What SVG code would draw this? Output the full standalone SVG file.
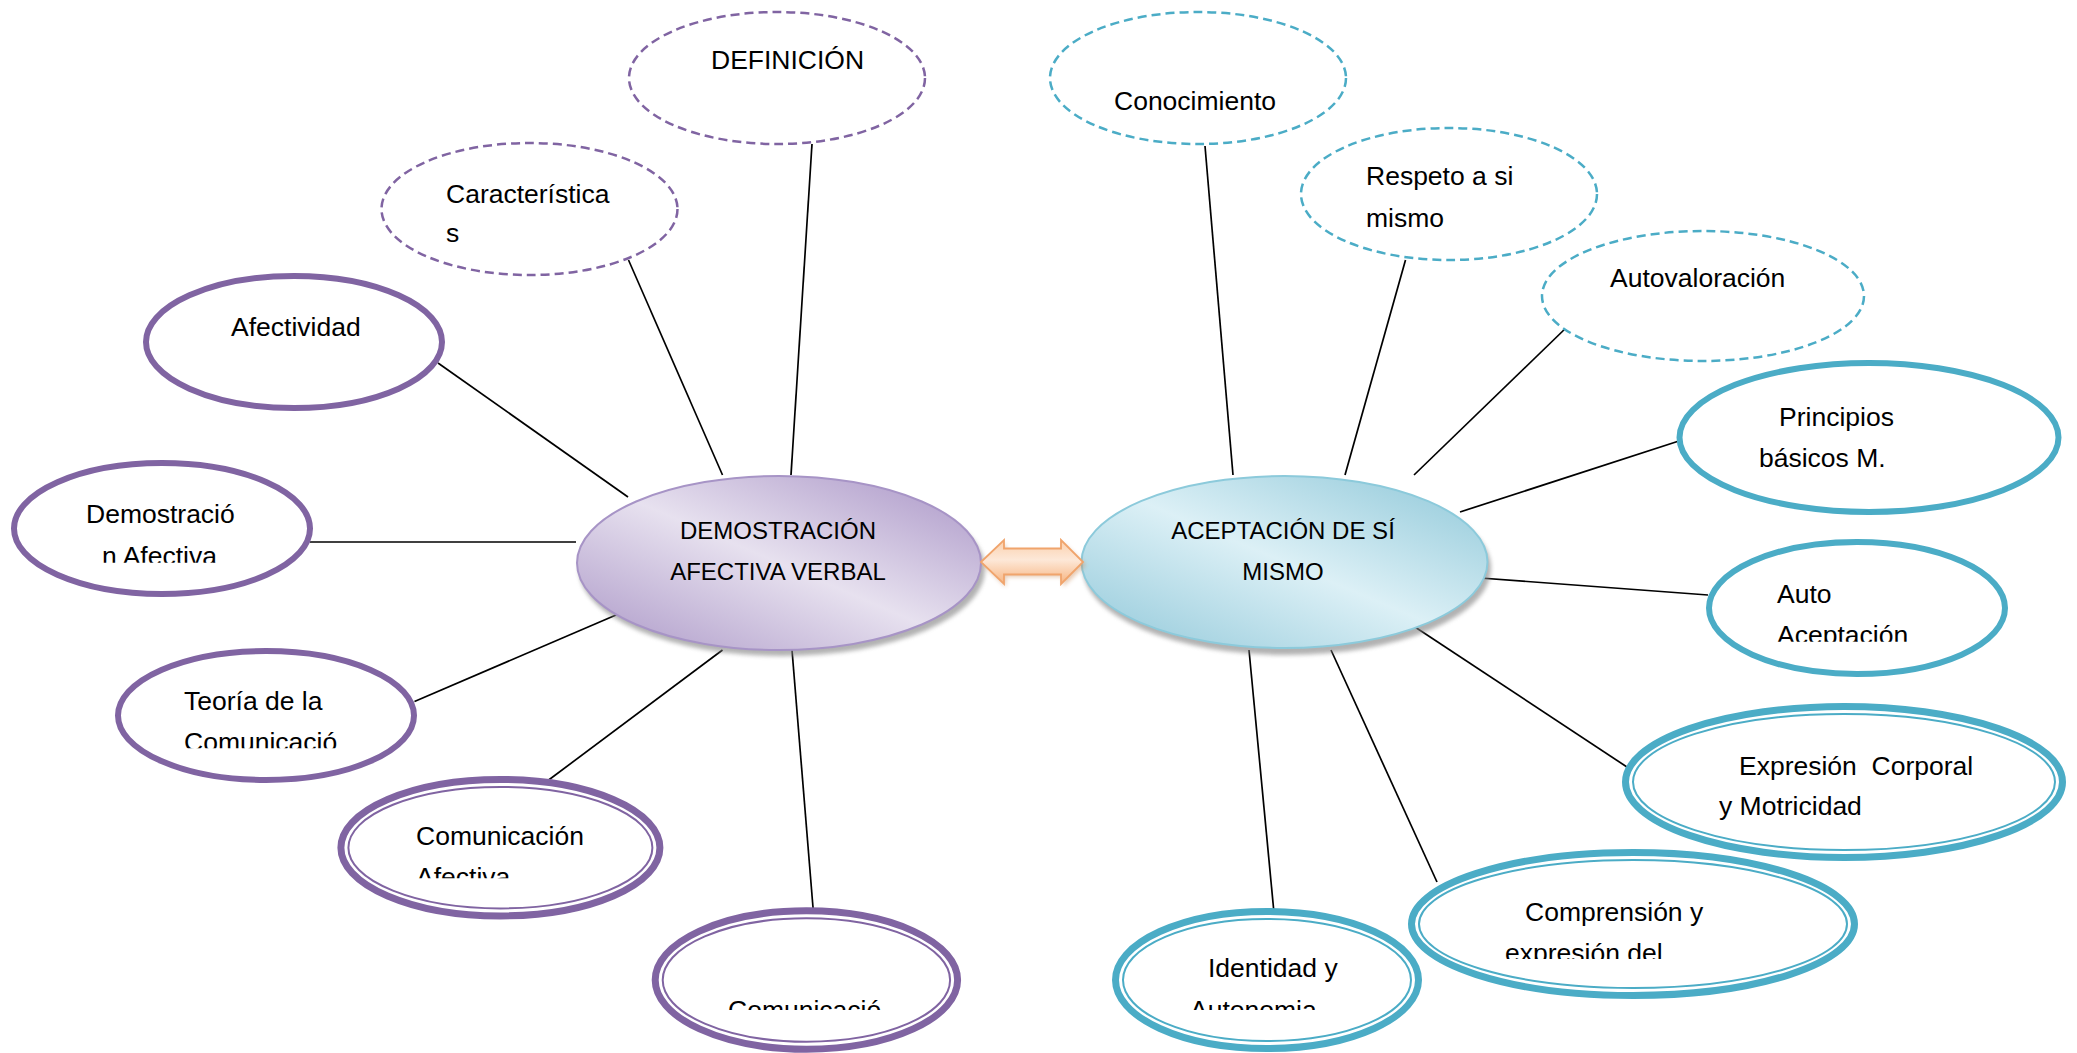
<svg xmlns="http://www.w3.org/2000/svg" width="2077" height="1053" viewBox="0 0 2077 1053">
<style>
  text { font-family: "Liberation Sans", Arial, sans-serif; fill: #000; }
  .t { font-size: 26.5px; }
  .tc { font-size: 24px; text-anchor: middle; }
  .dashP { fill: #fff; stroke: #8064a2; stroke-width: 2.5; stroke-dasharray: 9 5; }
  .dashB { fill: #fff; stroke: #4bacc6; stroke-width: 2.5; stroke-dasharray: 9 5; }
  .solP { fill: #fff; stroke: #8064a2; stroke-width: 6; }
  .solB { fill: #fff; stroke: #4bacc6; stroke-width: 6; }
  .dblP1 { fill: #fff; stroke: #8064a2; stroke-width: 7; }
  .dblP2 { fill: none; stroke: #8064a2; stroke-width: 2; }
  .dblB1 { fill: #fff; stroke: #4bacc6; stroke-width: 7; }
  .dblB2 { fill: none; stroke: #4bacc6; stroke-width: 2; }
  .conn line { stroke: #000; stroke-width: 1.7; }
</style>
<defs>
  <linearGradient id="gP" x1="1" y1="0" x2="0" y2="1">
    <stop offset="0.1" stop-color="#b5a3ce"/>
    <stop offset="0.5" stop-color="#e7e1ef"/>
    <stop offset="0.9" stop-color="#b7a6cf"/>
  </linearGradient>
  <linearGradient id="gB" x1="1" y1="0" x2="0" y2="1">
    <stop offset="0.1" stop-color="#9dcfde"/>
    <stop offset="0.5" stop-color="#dcf0f6"/>
    <stop offset="0.9" stop-color="#a0d0df"/>
  </linearGradient>
  <linearGradient id="gA" x1="0" y1="0" x2="0" y2="1">
    <stop offset="0" stop-color="#fbd0ac"/>
    <stop offset="0.45" stop-color="#fde8d8"/>
    <stop offset="1" stop-color="#f7b480"/>
  </linearGradient>
  <filter id="blur" x="-10%" y="-10%" width="120%" height="130%">
    <feGaussianBlur stdDeviation="2"/>
  </filter>
  <clipPath id="cDem"><rect x="0" y="440" width="330" height="122.7"/></clipPath>
  <clipPath id="cTeo"><rect x="100" y="640" width="330" height="108.3"/></clipPath>
  <clipPath id="cCA"><rect x="330" y="770" width="340" height="108.3"/></clipPath>
  <clipPath id="cCo"><rect x="640" y="900" width="330" height="110"/></clipPath>
  <clipPath id="cAu"><rect x="1700" y="530" width="320" height="111.7"/></clipPath>
  <clipPath id="cCE"><rect x="1400" y="840" width="470" height="119"/></clipPath>
  <clipPath id="cId"><rect x="1100" y="900" width="330" height="110"/></clipPath>
</defs>
<rect width="2077" height="1053" fill="#fff"/>

<g id="connectors" class="conn">
  <line x1="812" y1="144" x2="791" y2="475"/>
  <line x1="628.5" y1="260" x2="722.5" y2="475"/>
  <line x1="438" y1="363" x2="628" y2="497"/>
  <line x1="310" y1="542" x2="576" y2="542"/>
  <line x1="414.5" y1="701.5" x2="623" y2="612"/>
  <line x1="546" y1="782" x2="722.5" y2="650"/>
  <line x1="813.5" y1="913.5" x2="792" y2="650"/>
  <line x1="1205" y1="146" x2="1233" y2="475"/>
  <line x1="1405.5" y1="260" x2="1345" y2="475"/>
  <line x1="1568" y1="326" x2="1414" y2="475"/>
  <line x1="1682" y1="440" x2="1460" y2="512"/>
  <line x1="1708" y1="595" x2="1467" y2="577"/>
  <line x1="1630" y1="769" x2="1415" y2="627"/>
  <line x1="1437" y1="882" x2="1331" y2="650"/>
  <line x1="1274" y1="913" x2="1249" y2="650"/>
</g>

<g id="node-demostracion-verbal">
  <ellipse cx="782" cy="569" rx="203" ry="87" fill="#7f7f7f" opacity="0.6" filter="url(#blur)"/>
  <ellipse cx="779" cy="563" rx="202" ry="87" fill="url(#gP)" stroke="#a794c6" stroke-width="2"/>
  <text class="tc" x="778" y="539">DEMOSTRACIÓN</text>
  <text class="tc" x="778" y="580">AFECTIVA VERBAL</text>
</g>

<g id="node-aceptacion">
  <ellipse cx="1287" cy="568" rx="204" ry="87" fill="#7f7f7f" opacity="0.6" filter="url(#blur)"/>
  <ellipse cx="1284.5" cy="562" rx="203" ry="86" fill="url(#gB)" stroke="#8ccadb" stroke-width="2"/>
  <text class="tc" x="1283" y="539">ACEPTACIÓN DE SÍ</text>
  <text class="tc" x="1283" y="580">MISMO</text>
</g>

<g id="double-arrow">
  <path d="M983,565 L1006,543 L1006,551 L1063,551 L1063,543 L1086,565 L1063,587 L1063,577 L1006,577 L1006,587 Z" fill="#c98a5a" opacity="0.45" filter="url(#blur)"/>
  <path d="M981,562 L1004,540 L1004,548.5 L1061,548.5 L1061,540 L1083,562 L1061,584 L1061,574.5 L1004,574.5 L1004,584 Z" fill="url(#gA)" stroke="#f0a46c" stroke-width="1.8" stroke-linejoin="miter"/>
</g>

<g id="node-definicion">
  <ellipse class="dashP" cx="777" cy="78" rx="148" ry="66"/>
  <text class="t" x="711" y="69">DEFINICIÓN</text>
</g>
<g id="node-caracteristicas">
  <ellipse class="dashP" cx="529.5" cy="209" rx="148" ry="66"/>
  <text class="t" x="446" y="203">Característica</text>
  <text class="t" x="446" y="242">s</text>
</g>
<g id="node-afectividad">
  <ellipse class="solP" cx="294" cy="342" rx="148" ry="66"/>
  <text class="t" x="231" y="336">Afectividad</text>
</g>
<g id="node-demostracion-afectiva">
  <ellipse class="solP" cx="162" cy="528.5" rx="148" ry="65.5"/>
  <g clip-path="url(#cDem)">
    <text class="t" x="86" y="523">Demostració</text>
    <text class="t" x="102" y="564.5">n Afectiva</text>
  </g>
</g>
<g id="node-teoria">
  <ellipse class="solP" cx="266" cy="715.5" rx="148" ry="64.5"/>
  <g clip-path="url(#cTeo)">
    <text class="t" x="184" y="710">Teoría de la</text>
    <text class="t" x="184" y="751">Comunicació</text>
  </g>
</g>
<g id="node-comunicacion-afectiva">
  <ellipse class="dblP1" cx="500.4" cy="847.7" rx="159.5" ry="68.2"/>
  <ellipse class="dblP2" cx="500.4" cy="847.7" rx="152" ry="60.7"/>
  <g clip-path="url(#cCA)">
    <text class="t" x="416" y="845">Comunicación</text>
    <text class="t" x="416" y="886">Afectiva</text>
  </g>
</g>
<g id="node-comunicacio">
  <ellipse class="dblP1" cx="806.4" cy="980" rx="151.2" ry="69.2"/>
  <ellipse class="dblP2" cx="806.4" cy="980" rx="143.7" ry="61.7"/>
  <g clip-path="url(#cCo)">
    <text class="t" x="728" y="1019">Comunicació</text>
  </g>
</g>

<g id="node-conocimiento">
  <ellipse class="dashB" cx="1198" cy="78" rx="148" ry="66"/>
  <text class="t" x="1114" y="110">Conocimiento</text>
</g>
<g id="node-respeto">
  <ellipse class="dashB" cx="1449" cy="194" rx="148" ry="66"/>
  <text class="t" x="1366" y="185">Respeto a si</text>
  <text class="t" x="1366" y="227">mismo</text>
</g>
<g id="node-autovaloracion">
  <ellipse class="dashB" cx="1703" cy="296" rx="161" ry="65"/>
  <text class="t" x="1610" y="287">Autovaloración</text>
</g>
<g id="node-principios">
  <ellipse class="solB" cx="1869" cy="437.5" rx="189.5" ry="74.5"/>
  <text class="t" x="1779" y="426">Principios</text>
  <text class="t" x="1759" y="467">básicos M.</text>
</g>
<g id="node-auto-aceptacion">
  <ellipse class="solB" cx="1857" cy="608" rx="148" ry="66"/>
  <g clip-path="url(#cAu)">
    <text class="t" x="1777" y="603">Auto</text>
    <text class="t" x="1777" y="644">Aceptación</text>
  </g>
</g>
<g id="node-expresion">
  <ellipse class="dblB1" cx="1844" cy="782" rx="218.5" ry="75.5"/>
  <ellipse class="dblB2" cx="1844" cy="782" rx="211" ry="68"/>
  <text class="t" x="1739" y="775" xml:space="preserve">Expresión  Corporal</text>
  <text class="t" x="1719" y="815">y Motricidad</text>
</g>
<g id="node-comprension">
  <ellipse class="dblB1" cx="1633" cy="924" rx="221.5" ry="71.5"/>
  <ellipse class="dblB2" cx="1633" cy="924" rx="214" ry="64"/>
  <g clip-path="url(#cCE)">
    <text class="t" x="1525" y="921">Comprensión y</text>
    <text class="t" x="1505" y="962">expresión del</text>
  </g>
</g>
<g id="node-identidad">
  <ellipse class="dblB1" cx="1267" cy="980" rx="151.5" ry="68.5"/>
  <ellipse class="dblB2" cx="1267" cy="980" rx="144" ry="61"/>
  <g clip-path="url(#cId)">
    <text class="t" x="1208" y="977">Identidad y</text>
    <text class="t" x="1190" y="1019">Autonomia</text>
  </g>
</g>
</svg>
